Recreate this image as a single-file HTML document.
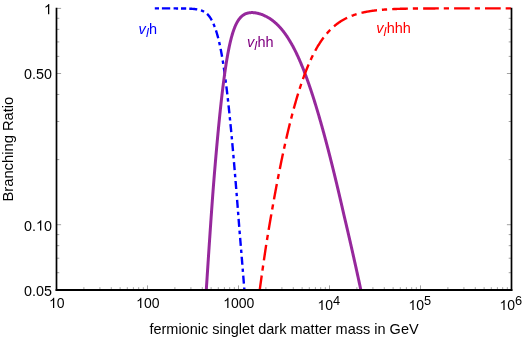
<!DOCTYPE html>
<html><head><meta charset="utf-8"><title>Branching Ratio</title>
<style>
html,body{margin:0;padding:0;background:#fff;}
svg{display:block;will-change:transform;font-family:"Liberation Sans",sans-serif;font-size:14px;fill:#000;}
</style></head><body>
<svg width="525" height="338" viewBox="0 0 525 338">
<rect width="525" height="338" fill="#fff"/>
<defs><clipPath id="cp"><rect x="56.5" y="0" width="456.0" height="289.2"/></clipPath></defs>
<path d="M56.50 290.00 v-4.60 M83.89 290.00 v-2.80 M99.92 290.00 v-2.80 M111.29 290.00 v-2.80 M120.11 290.00 v-2.80 M127.31 290.00 v-2.80 M133.40 290.00 v-2.80 M138.68 290.00 v-2.80 M143.34 290.00 v-2.80 M147.50 290.00 v-4.60 M174.89 290.00 v-2.80 M190.92 290.00 v-2.80 M202.29 290.00 v-2.80 M211.11 290.00 v-2.80 M218.31 290.00 v-2.80 M224.40 290.00 v-2.80 M229.68 290.00 v-2.80 M234.34 290.00 v-2.80 M238.50 290.00 v-4.60 M265.89 290.00 v-2.80 M281.92 290.00 v-2.80 M293.29 290.00 v-2.80 M302.11 290.00 v-2.80 M309.31 290.00 v-2.80 M315.40 290.00 v-2.80 M320.68 290.00 v-2.80 M325.34 290.00 v-2.80 M329.50 290.00 v-4.60 M356.89 290.00 v-2.80 M372.92 290.00 v-2.80 M384.29 290.00 v-2.80 M393.11 290.00 v-2.80 M400.31 290.00 v-2.80 M406.40 290.00 v-2.80 M411.68 290.00 v-2.80 M416.34 290.00 v-2.80 M420.50 290.00 v-4.60 M447.89 290.00 v-2.80 M463.92 290.00 v-2.80 M475.29 290.00 v-2.80 M484.11 290.00 v-2.80 M491.31 290.00 v-2.80 M497.40 290.00 v-2.80 M502.68 290.00 v-2.80 M507.34 290.00 v-2.80 M511.50 290.00 v-4.60 M56.50 8.40 h4.60 M511.50 8.40 h-4.60 M56.50 73.51 h4.60 M511.50 73.51 h-4.60 M56.50 224.70 h4.60 M511.50 224.70 h-4.60 M56.50 289.81 h4.60 M511.50 289.81 h-4.60 M56.50 18.30 h2.80 M511.50 18.30 h-2.80 M56.50 29.36 h2.80 M511.50 29.36 h-2.80 M56.50 41.91 h2.80 M511.50 41.91 h-2.80 M56.50 56.39 h2.80 M511.50 56.39 h-2.80 M56.50 94.47 h2.80 M511.50 94.47 h-2.80 M56.50 121.50 h2.80 M511.50 121.50 h-2.80 M56.50 159.59 h2.80 M511.50 159.59 h-2.80 M56.50 234.60 h2.80 M511.50 234.60 h-2.80 M56.50 245.66 h2.80 M511.50 245.66 h-2.80 M56.50 258.21 h2.80 M511.50 258.21 h-2.80 M56.50 272.69 h2.80 M511.50 272.69 h-2.80" stroke="#444" stroke-width="0.5" fill="none"/>
<g clip-path="url(#cp)" fill="none" stroke-linejoin="round">
<path d="M154.80 8.40 L155.30 8.40 L155.80 8.40 L156.30 8.40 L156.80 8.40 L157.30 8.40 L157.80 8.40 L158.30 8.40 L158.80 8.40 L159.30 8.40 L159.80 8.40 L160.30 8.40 L160.80 8.40 L161.30 8.40 L161.80 8.40 L162.30 8.40 L162.80 8.40 L163.30 8.40 L163.80 8.40 L164.30 8.40 L164.80 8.40 L165.30 8.40 L165.80 8.40 L166.30 8.40 L166.80 8.41 L167.30 8.41 L167.80 8.41 L168.30 8.41 L168.80 8.41 L169.30 8.41 L169.80 8.41 L170.30 8.41 L170.80 8.41 L171.30 8.41 L171.80 8.41 L172.30 8.41 L172.80 8.41 L173.30 8.42 L173.80 8.42 L174.30 8.42 L174.80 8.42 L175.30 8.42 L175.80 8.42 L176.30 8.43 L176.80 8.43 L177.30 8.43 L177.80 8.44 L178.30 8.44 L178.80 8.44 L179.30 8.45 L179.80 8.45 L180.30 8.45 L180.80 8.46 L181.30 8.46 L181.80 8.47 L182.30 8.48 L182.80 8.48 L183.30 8.49 L183.80 8.50 L184.30 8.51 L184.80 8.52 L185.30 8.53 L185.80 8.54 L186.20 8.55" stroke="#0000ff" stroke-width="2.4" stroke-dasharray="4.2 2.9 8.3 3.4 4.5 2.9 8.3 3.4"/>
<path d="M189.25 8.66 L189.75 8.68 L190.25 8.70 L190.75 8.73 L191.25 8.76 L191.75 8.79 L192.25 8.83 L192.75 8.87 L193.25 8.91 L193.75 8.96 L194.25 9.01 L194.75 9.06 L195.25 9.12 L195.75 9.19 L196.25 9.26 L196.75 9.34 L197.25 9.42 L197.75 9.51 L198.25 9.61 L198.75 9.72 L199.25 9.84 L199.75 9.97 L200.25 10.11 L200.75 10.27 L201.25 10.44 L201.75 10.62 L202.25 10.82 L202.75 11.03 L203.25 11.27 L203.70 11.50 L204.15 11.74 L204.60 12.01 L205.05 12.30 L205.50 12.61 L205.95 12.94 L206.35 13.26 L206.75 13.60 L207.15 13.96 L207.55 14.35 L207.90 14.71 L208.25 15.09 L208.60 15.49 L208.95 15.91 L209.30 16.36 L209.60 16.77 L209.90 17.19 L210.20 17.64 L210.50 18.10 L210.80 18.59 L211.10 19.09 L211.35 19.53 L211.60 19.99 L211.85 20.46 L212.10 20.94 L212.35 21.44 L212.60 21.96 L212.85 22.49 L213.10 23.03 L213.35 23.59 L213.60 24.16 L213.80 24.63 L214.00 25.11 L214.20 25.60 L214.40 26.10 L214.60 26.61 L214.80 27.13 L215.00 27.67 L215.20 28.21 L215.40 28.77 L215.60 29.34 L215.80 29.93 L216.00 30.53 L216.20 31.15 L216.40 31.77 L216.55 32.25 L216.70 32.74 L216.85 33.24 L217.00 33.75 L217.15 34.26 L217.30 34.79 L217.45 35.32 L217.60 35.86 L217.75 36.41 L217.90 36.98 L218.05 37.55 L218.20 38.13 L218.35 38.72 L218.50 39.31 L218.65 39.92 L218.80 40.54 L218.95 41.17 L219.10 41.81 L219.25 42.46 L219.40 43.12 L219.55 43.79 L219.70 44.47 L219.85 45.16 L220.00 45.87 L220.15 46.58 L220.30 47.30 L220.45 48.04 L220.55 48.54 L220.65 49.04 L220.75 49.54 L220.85 50.05 L220.95 50.57 L221.05 51.09 L221.15 51.62 L221.25 52.15 L221.35 52.69 L221.45 53.23 L221.55 53.77 L221.65 54.33 L221.75 54.88 L221.85 55.45 L221.95 56.01 L222.05 56.59 L222.15 57.16 L222.25 57.75 L222.35 58.34 L222.45 58.93 L222.55 59.53 L222.65 60.13 L222.75 60.74 L222.85 61.36 L222.95 61.98 L223.05 62.61 L223.15 63.24 L223.25 63.87 L223.35 64.51 L223.45 65.16 L223.55 65.82 L223.65 66.47 L223.75 67.14 L223.85 67.81 L223.95 68.48 L224.05 69.16 L224.15 69.85 L224.25 70.54 L224.35 71.23 L224.45 71.94 L224.55 72.64 L224.65 73.36 L224.75 74.07 L224.85 74.80 L224.95 75.53 L225.05 76.26 L225.15 77.00 L225.25 77.75 L225.35 78.50 L225.45 79.26 L225.55 80.02 L225.65 80.79 L225.75 81.56 L225.85 82.34 L225.95 83.12 L226.05 83.91 L226.15 84.70 L226.25 85.50 L226.35 86.31 L226.45 87.12 L226.55 87.94 L226.65 88.76 L226.75 89.59 L226.85 90.42 L226.95 91.26 L227.05 92.10 L227.15 92.95 L227.25 93.80 L227.35 94.66 L227.45 95.52 L227.55 96.39 L227.65 97.27 L227.75 98.15 L227.85 99.03 L227.95 99.92 L228.05 100.82 L228.15 101.72 L228.25 102.62 L228.35 103.53 L228.45 104.45 L228.55 105.37 L228.65 106.30 L228.75 107.23 L228.85 108.16 L228.95 109.10 L229.05 110.05 L229.15 111.00 L229.25 111.95 L229.35 112.92 L229.45 113.88 L229.55 114.85 L229.65 115.83 L229.75 116.80 L229.85 117.79 L229.95 118.78 L230.05 119.77 L230.10 120.27 L230.15 120.77 L230.20 121.27 L230.25 121.77 L230.30 122.28 L230.35 122.78 L230.40 123.29 L230.45 123.79 L230.50 124.30 L230.55 124.81 L230.60 125.32 L230.65 125.83 L230.70 126.34 L230.75 126.86 L230.80 127.37 L230.85 127.89 L230.90 128.41 L230.95 128.92 L231.00 129.44 L231.05 129.96 L231.10 130.48 L231.15 131.01 L231.20 131.53 L231.25 132.05 L231.30 132.58 L231.35 133.11 L231.40 133.63 L231.45 134.16 L231.50 134.69 L231.55 135.22 L231.60 135.76 L231.65 136.29 L231.70 136.82 L231.75 137.36 L231.80 137.89 L231.85 138.43 L231.90 138.97 L231.95 139.51 L232.00 140.05 L232.05 140.59 L232.10 141.13 L232.15 141.68 L232.20 142.22 L232.25 142.77 L232.30 143.31 L232.35 143.86 L232.40 144.41 L232.45 144.96 L232.50 145.51 L232.55 146.06 L232.60 146.61 L232.65 147.17 L232.70 147.72 L232.75 148.27 L232.80 148.83 L232.85 149.39 L232.90 149.95 L232.95 150.51 L233.00 151.07 L233.05 151.63 L233.10 152.19 L233.15 152.75 L233.20 153.32 L233.25 153.88 L233.30 154.45 L233.35 155.01 L233.40 155.58 L233.45 156.15 L233.50 156.72 L233.55 157.29 L233.60 157.86 L233.65 158.43 L233.70 159.00 L233.75 159.58 L233.80 160.15 L233.85 160.73 L233.90 161.30 L233.95 161.88 L234.00 162.46 L234.05 163.04 L234.10 163.62 L234.15 164.20 L234.20 164.78 L234.25 165.36 L234.30 165.95 L234.35 166.53 L234.40 167.12 L234.45 167.70 L234.50 168.29 L234.55 168.88 L234.60 169.47 L234.65 170.05 L234.70 170.64 L234.75 171.24 L234.80 171.83 L234.85 172.42 L234.90 173.01 L234.95 173.61 L235.00 174.20 L235.05 174.80 L235.10 175.39 L235.15 175.99 L235.20 176.59 L235.25 177.19 L235.30 177.79 L235.35 178.39 L235.40 178.99 L235.45 179.59 L235.50 180.19 L235.55 180.80 L235.60 181.40 L235.65 182.00 L235.70 182.61 L235.75 183.22 L235.80 183.82 L235.85 184.43 L235.90 185.04 L235.95 185.65 L236.00 186.26 L236.05 186.87 L236.10 187.48 L236.15 188.09 L236.20 188.70 L236.25 189.32 L236.30 189.93 L236.35 190.55 L236.40 191.16 L236.45 191.78 L236.50 192.40 L236.55 193.01 L236.60 193.63 L236.65 194.25 L236.70 194.87 L236.75 195.49 L236.80 196.11 L236.85 196.73 L236.90 197.35 L236.95 197.98 L237.00 198.60 L237.05 199.22 L237.10 199.85 L237.15 200.47 L237.20 201.10 L237.25 201.73 L237.30 202.35 L237.35 202.98 L237.40 203.61 L237.45 204.24 L237.50 204.87 L237.55 205.50 L237.60 206.13 L237.65 206.76 L237.70 207.39 L237.75 208.03 L237.80 208.66 L237.85 209.29 L237.90 209.93 L237.95 210.56 L238.00 211.20 L238.05 211.84 L238.10 212.47 L238.15 213.11 L238.20 213.75 L238.25 214.39 L238.30 215.03 L238.35 215.67 L238.40 216.31 L238.45 216.95 L238.50 217.59 L238.55 218.23 L238.60 218.87 L238.65 219.51 L238.70 220.16 L238.75 220.80 L238.80 221.45 L238.85 222.09 L238.90 222.74 L238.95 223.38 L239.00 224.03 L239.05 224.68 L239.10 225.32 L239.15 225.97 L239.20 226.62 L239.25 227.27 L239.30 227.92 L239.35 228.57 L239.40 229.22 L239.45 229.87 L239.50 230.52 L239.56 231.17 L239.61 231.83 L239.67 232.48 L239.72 233.13 L239.78 233.79 L239.83 234.44 L239.89 235.10 L239.94 235.75 L240.00 236.41 L240.05 237.06 L240.11 237.72 L240.17 238.38 L240.22 239.04 L240.28 239.69 L240.33 240.35 L240.39 241.01 L240.44 241.67 L240.50 242.33 L240.55 242.99 L240.61 243.65 L240.66 244.31 L240.72 244.97 L240.77 245.64 L240.83 246.30 L240.88 246.96 L240.94 247.63 L240.99 248.29 L241.05 248.95 L241.10 249.62 L241.16 250.28 L241.21 250.95 L241.27 251.61 L241.32 252.28 L241.38 252.95 L241.43 253.61 L241.49 254.28 L241.54 254.95 L241.60 255.62 L241.65 256.28 L241.71 256.95 L241.76 257.62 L241.82 258.29 L241.88 258.96 L241.93 259.63 L241.99 260.30 L242.04 260.97 L242.10 261.65 L242.15 262.32 L242.21 262.99 L242.26 263.66 L242.32 264.34 L242.37 265.01 L242.43 265.68 L242.48 266.36 L242.54 267.03 L242.59 267.71 L242.65 268.38 L242.70 269.06 L242.76 269.73 L242.81 270.41 L242.87 271.08 L242.92 271.76 L242.98 272.44 L243.04 273.12 L243.09 273.79 L243.15 274.47 L243.20 275.15 L243.26 275.83 L243.31 276.51 L243.37 277.19 L243.42 277.87 L243.48 278.55 L243.53 279.23 L243.59 279.91 L243.64 280.59 L243.70 281.27 L243.75 281.95 L243.81 282.63 L243.86 283.32 L243.92 284.00 L243.98 284.68 L244.03 285.36 L244.09 286.05 L244.14 286.73 L244.20 287.41 L244.25 288.10 L244.30 288.78 L244.35 289.47" stroke="#0000ff" stroke-width="2.4" stroke-dasharray="8.05 3.82 3.4 3.73"/>
<path d="M206.20 291.39 L206.25 290.62 L206.30 289.84 L206.35 289.07 L206.40 288.30 L206.45 287.52 L206.50 286.75 L206.55 285.98 L206.60 285.21 L206.65 284.44 L206.70 283.67 L206.75 282.90 L206.80 282.13 L206.85 281.36 L206.90 280.59 L206.95 279.82 L207.00 279.05 L207.05 278.28 L207.10 277.51 L207.15 276.75 L207.20 275.98 L207.25 275.21 L207.30 274.45 L207.35 273.68 L207.40 272.92 L207.45 272.15 L207.50 271.39 L207.55 270.63 L207.60 269.86 L207.65 269.10 L207.70 268.34 L207.75 267.57 L207.80 266.81 L207.85 266.05 L207.90 265.29 L207.95 264.53 L208.00 263.77 L208.05 263.01 L208.10 262.25 L208.15 261.50 L208.20 260.74 L208.25 259.98 L208.30 259.23 L208.35 258.47 L208.40 257.71 L208.45 256.96 L208.50 256.20 L208.55 255.45 L208.60 254.70 L208.65 253.94 L208.70 253.19 L208.75 252.44 L208.80 251.69 L208.85 250.94 L208.90 250.19 L208.95 249.44 L209.00 248.69 L209.05 247.94 L209.10 247.19 L209.15 246.45 L209.20 245.70 L209.25 244.96 L209.30 244.21 L209.35 243.47 L209.40 242.72 L209.45 241.98 L209.50 241.24 L209.55 240.49 L209.60 239.75 L209.65 239.01 L209.70 238.27 L209.75 237.53 L209.80 236.79 L209.85 236.06 L209.90 235.32 L209.95 234.58 L210.00 233.85 L210.05 233.11 L210.10 232.38 L210.15 231.64 L210.20 230.91 L210.25 230.18 L210.30 229.45 L210.35 228.72 L210.40 227.99 L210.45 227.26 L210.50 226.53 L210.55 225.81 L210.60 225.08 L210.65 224.35 L210.70 223.63 L210.75 222.91 L210.80 222.19 L210.85 221.46 L210.90 220.74 L210.95 220.02 L211.00 219.31 L211.05 218.59 L211.10 217.87 L211.15 217.16 L211.20 216.44 L211.25 215.73 L211.30 215.02 L211.35 214.31 L211.40 213.60 L211.45 212.89 L211.50 212.18 L211.55 211.48 L211.60 210.77 L211.65 210.07 L211.70 209.37 L211.75 208.66 L211.80 207.97 L211.85 207.27 L211.90 206.57 L211.95 205.88 L212.00 205.18 L212.05 204.49 L212.10 203.80 L212.15 203.11 L212.20 202.42 L212.25 201.74 L212.30 201.05 L212.35 200.37 L212.40 199.69 L212.45 199.01 L212.50 198.34 L212.55 197.66 L212.60 196.99 L212.65 196.32 L212.70 195.65 L212.75 194.98 L212.80 194.31 L212.85 193.65 L212.90 192.99 L212.95 192.33 L213.00 191.67 L213.05 191.01 L213.10 190.36 L213.15 189.71 L213.20 189.06 L213.25 188.41 L213.30 187.76 L213.35 187.12 L213.40 186.48 L213.45 185.84 L213.50 185.20 L213.55 184.56 L213.60 183.92 L213.65 183.29 L213.70 182.66 L213.75 182.03 L213.80 181.40 L213.85 180.78 L213.90 180.15 L213.95 179.53 L214.00 178.91 L214.05 178.29 L214.10 177.67 L214.15 177.05 L214.20 176.44 L214.25 175.82 L214.30 175.21 L214.35 174.60 L214.40 173.99 L214.45 173.38 L214.50 172.78 L214.55 172.17 L214.60 171.57 L214.65 170.96 L214.70 170.36 L214.75 169.76 L214.80 169.16 L214.85 168.57 L214.90 167.97 L214.95 167.38 L215.00 166.78 L215.05 166.19 L215.10 165.60 L215.15 165.01 L215.20 164.42 L215.25 163.83 L215.30 163.24 L215.35 162.66 L215.40 162.07 L215.45 161.49 L215.50 160.91 L215.55 160.33 L215.60 159.75 L215.65 159.17 L215.70 158.59 L215.75 158.01 L215.80 157.44 L215.85 156.86 L215.90 156.29 L215.95 155.72 L216.00 155.15 L216.05 154.58 L216.10 154.01 L216.15 153.44 L216.20 152.87 L216.25 152.31 L216.30 151.74 L216.35 151.18 L216.40 150.62 L216.45 150.06 L216.50 149.50 L216.55 148.94 L216.60 148.38 L216.65 147.82 L216.70 147.26 L216.75 146.71 L216.80 146.16 L216.85 145.60 L216.90 145.05 L216.95 144.50 L217.00 143.95 L217.05 143.40 L217.10 142.85 L217.15 142.31 L217.20 141.76 L217.25 141.22 L217.30 140.67 L217.35 140.13 L217.40 139.59 L217.45 139.05 L217.50 138.51 L217.55 137.97 L217.60 137.44 L217.65 136.90 L217.70 136.37 L217.75 135.83 L217.80 135.30 L217.85 134.77 L217.90 134.24 L217.95 133.71 L218.00 133.18 L218.05 132.66 L218.10 132.13 L218.15 131.60 L218.20 131.08 L218.25 130.56 L218.30 130.04 L218.35 129.52 L218.40 129.00 L218.45 128.48 L218.50 127.96 L218.55 127.45 L218.60 126.93 L218.65 126.42 L218.70 125.91 L218.75 125.40 L218.80 124.89 L218.85 124.38 L218.90 123.87 L218.95 123.37 L219.00 122.86 L219.05 122.36 L219.10 121.85 L219.15 121.35 L219.20 120.85 L219.25 120.35 L219.30 119.85 L219.40 118.86 L219.50 117.87 L219.60 116.89 L219.70 115.91 L219.80 114.94 L219.90 113.97 L220.00 113.01 L220.10 112.05 L220.20 111.09 L220.30 110.14 L220.40 109.20 L220.50 108.26 L220.60 107.33 L220.70 106.40 L220.80 105.47 L220.90 104.56 L221.00 103.64 L221.10 102.73 L221.20 101.83 L221.30 100.93 L221.40 100.04 L221.50 99.15 L221.60 98.27 L221.70 97.39 L221.80 96.52 L221.90 95.65 L222.00 94.79 L222.10 93.93 L222.20 93.08 L222.30 92.24 L222.40 91.39 L222.50 90.56 L222.60 89.73 L222.70 88.90 L222.80 88.09 L222.90 87.27 L223.00 86.46 L223.10 85.66 L223.20 84.86 L223.30 84.07 L223.40 83.28 L223.50 82.50 L223.60 81.73 L223.70 80.96 L223.80 80.19 L223.90 79.43 L224.00 78.68 L224.10 77.93 L224.20 77.19 L224.30 76.45 L224.40 75.72 L224.50 74.99 L224.60 74.27 L224.70 73.55 L224.80 72.84 L224.90 72.14 L225.00 71.44 L225.10 70.75 L225.20 70.06 L225.30 69.38 L225.40 68.70 L225.50 68.03 L225.60 67.36 L225.70 66.70 L225.80 66.05 L225.90 65.40 L226.00 64.75 L226.10 64.11 L226.20 63.48 L226.30 62.85 L226.40 62.23 L226.50 61.61 L226.60 61.00 L226.70 60.39 L226.80 59.79 L226.90 59.20 L227.00 58.60 L227.10 58.02 L227.20 57.44 L227.30 56.87 L227.40 56.30 L227.50 55.73 L227.60 55.17 L227.70 54.62 L227.80 54.07 L227.90 53.53 L228.00 52.99 L228.10 52.46 L228.20 51.93 L228.30 51.41 L228.40 50.89 L228.50 50.38 L228.60 49.87 L228.70 49.37 L228.80 48.87 L228.90 48.38 L229.05 47.65 L229.20 46.93 L229.35 46.22 L229.50 45.53 L229.65 44.84 L229.80 44.17 L229.95 43.50 L230.10 42.85 L230.25 42.21 L230.40 41.58 L230.55 40.95 L230.70 40.34 L230.85 39.74 L231.00 39.15 L231.15 38.57 L231.30 37.99 L231.45 37.43 L231.60 36.88 L231.75 36.34 L231.90 35.80 L232.05 35.28 L232.20 34.76 L232.35 34.26 L232.50 33.76 L232.65 33.27 L232.80 32.79 L233.00 32.16 L233.20 31.55 L233.40 30.96 L233.60 30.38 L233.80 29.81 L234.00 29.26 L234.20 28.72 L234.40 28.19 L234.60 27.68 L234.80 27.18 L235.00 26.69 L235.20 26.22 L235.40 25.76 L235.65 25.20 L235.90 24.66 L236.15 24.14 L236.40 23.63 L236.65 23.14 L236.90 22.67 L237.15 22.22 L237.40 21.78 L237.70 21.27 L238.00 20.79 L238.30 20.32 L238.60 19.88 L238.90 19.45 L239.20 19.04 L239.55 18.59 L239.90 18.17 L240.25 17.76 L240.60 17.38 L240.95 17.01 L241.35 16.62 L241.75 16.26 L242.15 15.92 L242.55 15.60 L243.00 15.27 L243.45 14.96 L243.90 14.68 L244.35 14.42 L244.80 14.18 L245.30 13.94 L245.80 13.72 L246.30 13.53 L246.80 13.36 L247.30 13.21 L247.80 13.08 L248.30 12.97 L248.80 12.87 L249.30 12.79 L249.80 12.72 L250.30 12.67 L250.80 12.64 L251.30 12.62 L251.80 12.61 L252.30 12.61 L252.80 12.62 L253.30 12.65 L253.80 12.68 L254.30 12.73 L254.80 12.79 L255.30 12.86 L255.80 12.93 L256.30 13.02 L256.80 13.11 L257.30 13.22 L257.80 13.33 L258.30 13.45 L258.80 13.58 L259.30 13.72 L259.80 13.86 L260.30 14.02 L260.80 14.18 L261.30 14.35 L261.80 14.53 L262.30 14.72 L262.80 14.92 L263.30 15.12 L263.80 15.34 L264.30 15.56 L264.80 15.79 L265.30 16.03 L265.75 16.25 L266.20 16.48 L266.65 16.71 L267.10 16.96 L267.55 17.21 L268.00 17.47 L268.45 17.73 L268.90 18.01 L269.35 18.29 L269.80 18.57 L270.25 18.87 L270.70 19.17 L271.15 19.49 L271.60 19.81 L272.05 20.13 L272.50 20.47 L272.90 20.78 L273.30 21.09 L273.70 21.41 L274.10 21.74 L274.50 22.07 L274.90 22.41 L275.30 22.76 L275.70 23.12 L276.10 23.48 L276.50 23.85 L276.90 24.23 L277.30 24.61 L277.70 25.00 L278.10 25.40 L278.50 25.81 L278.85 26.18 L279.20 26.55 L279.55 26.92 L279.90 27.30 L280.25 27.69 L280.60 28.09 L280.95 28.49 L281.30 28.90 L281.65 29.31 L282.00 29.73 L282.35 30.16 L282.70 30.59 L283.05 31.03 L283.40 31.48 L283.75 31.93 L284.10 32.40 L284.40 32.80 L284.70 33.20 L285.00 33.61 L285.30 34.03 L285.60 34.45 L285.90 34.88 L286.20 35.31 L286.50 35.74 L286.80 36.19 L287.10 36.63 L287.40 37.09 L287.70 37.54 L288.00 38.01 L288.30 38.48 L288.60 38.95 L288.90 39.43 L289.20 39.92 L289.50 40.41 L289.80 40.90 L290.10 41.41 L290.40 41.91 L290.70 42.43 L291.00 42.95 L291.25 43.38 L291.50 43.82 L291.75 44.27 L292.00 44.71 L292.25 45.17 L292.50 45.62 L292.75 46.08 L293.00 46.55 L293.25 47.01 L293.50 47.49 L293.75 47.96 L294.00 48.44 L294.25 48.93 L294.50 49.41 L294.75 49.91 L295.00 50.40 L295.25 50.90 L295.50 51.41 L295.75 51.91 L296.00 52.43 L296.25 52.94 L296.50 53.46 L296.75 53.99 L297.00 54.51 L297.25 55.05 L297.50 55.58 L297.75 56.12 L298.00 56.67 L298.25 57.22 L298.50 57.77 L298.75 58.33 L299.00 58.89 L299.25 59.45 L299.50 60.02 L299.75 60.59 L299.95 61.05 L300.15 61.52 L300.35 61.98 L300.55 62.45 L300.75 62.92 L300.95 63.40 L301.15 63.87 L301.35 64.35 L301.55 64.83 L301.75 65.32 L301.95 65.80 L302.15 66.29 L302.35 66.78 L302.55 67.28 L302.75 67.78 L302.95 68.28 L303.15 68.78 L303.35 69.28 L303.55 69.79 L303.75 70.30 L303.95 70.81 L304.15 71.33 L304.35 71.84 L304.55 72.36 L304.75 72.88 L304.95 73.41 L305.15 73.94 L305.35 74.47 L305.55 75.00 L305.75 75.53 L305.95 76.07 L306.15 76.61 L306.35 77.15 L306.55 77.70 L306.75 78.24 L306.95 78.79 L307.15 79.35 L307.35 79.90 L307.55 80.46 L307.75 81.02 L307.95 81.58 L308.15 82.14 L308.35 82.71 L308.55 83.28 L308.75 83.85 L308.95 84.42 L309.15 85.00 L309.35 85.58 L309.55 86.16 L309.75 86.74 L309.95 87.33 L310.15 87.92 L310.35 88.51 L310.55 89.10 L310.75 89.70 L310.95 90.29 L311.15 90.89 L311.35 91.50 L311.55 92.10 L311.75 92.71 L311.95 93.32 L312.15 93.93 L312.35 94.54 L312.55 95.16 L312.75 95.78 L312.95 96.40 L313.15 97.02 L313.35 97.64 L313.55 98.27 L313.75 98.90 L313.95 99.53 L314.15 100.17 L314.35 100.80 L314.50 101.28 L314.65 101.76 L314.80 102.24 L314.95 102.72 L315.10 103.21 L315.25 103.69 L315.40 104.18 L315.55 104.67 L315.70 105.15 L315.85 105.64 L316.00 106.13 L316.15 106.63 L316.30 107.12 L316.45 107.61 L316.60 108.11 L316.75 108.61 L316.90 109.10 L317.05 109.60 L317.20 110.10 L317.35 110.60 L317.50 111.11 L317.65 111.61 L317.80 112.12 L317.95 112.62 L318.10 113.13 L318.25 113.64 L318.40 114.15 L318.55 114.66 L318.70 115.17 L318.85 115.68 L319.00 116.20 L319.15 116.71 L319.30 117.23 L319.45 117.75 L319.60 118.26 L319.75 118.78 L319.90 119.30 L320.05 119.83 L320.20 120.35 L320.35 120.87 L320.50 121.40 L320.65 121.93 L320.80 122.45 L320.95 122.98 L321.10 123.51 L321.25 124.04 L321.40 124.57 L321.55 125.11 L321.70 125.64 L321.85 126.18 L322.00 126.71 L322.15 127.25 L322.30 127.79 L322.45 128.33 L322.60 128.87 L322.75 129.41 L322.90 129.95 L323.05 130.49 L323.20 131.04 L323.35 131.58 L323.50 132.13 L323.65 132.68 L323.80 133.23 L323.95 133.77 L324.10 134.33 L324.25 134.88 L324.40 135.43 L324.55 135.98 L324.70 136.54 L324.85 137.09 L325.00 137.65 L325.15 138.21 L325.30 138.77 L325.45 139.33 L325.60 139.89 L325.75 140.45 L325.90 141.01 L326.05 141.57 L326.20 142.14 L326.35 142.70 L326.50 143.27 L326.65 143.84 L326.80 144.41 L326.95 144.98 L327.10 145.55 L327.25 146.12 L327.40 146.69 L327.55 147.26 L327.70 147.84 L327.85 148.41 L328.00 148.99 L328.15 149.56 L328.30 150.14 L328.45 150.72 L328.60 151.30 L328.75 151.88 L328.90 152.46 L329.05 153.04 L329.20 153.63 L329.35 154.21 L329.50 154.80 L329.65 155.38 L329.80 155.97 L329.95 156.56 L330.10 157.15 L330.25 157.74 L330.40 158.33 L330.55 158.92 L330.70 159.51 L330.85 160.10 L331.00 160.70 L331.15 161.29 L331.30 161.89 L331.45 162.48 L331.60 163.08 L331.75 163.68 L331.90 164.28 L332.05 164.88 L332.20 165.48 L332.35 166.08 L332.50 166.68 L332.65 167.29 L332.80 167.89 L332.95 168.50 L333.10 169.10 L333.25 169.71 L333.40 170.32 L333.55 170.93 L333.70 171.54 L333.85 172.15 L334.00 172.76 L334.15 173.37 L334.30 173.98 L334.45 174.60 L334.60 175.21 L334.75 175.83 L334.90 176.44 L335.05 177.06 L335.20 177.68 L335.35 178.29 L335.50 178.91 L335.65 179.53 L335.80 180.15 L335.95 180.78 L336.10 181.40 L336.25 182.02 L336.40 182.65 L336.55 183.27 L336.70 183.90 L336.85 184.52 L337.00 185.15 L337.15 185.78 L337.30 186.41 L337.45 187.04 L337.60 187.67 L337.75 188.30 L337.90 188.93 L338.05 189.56 L338.20 190.20 L338.35 190.83 L338.50 191.47 L338.65 192.10 L338.80 192.74 L338.95 193.38 L339.10 194.01 L339.25 194.65 L339.40 195.29 L339.55 195.93 L339.70 196.57 L339.85 197.22 L340.00 197.86 L340.15 198.50 L340.30 199.15 L340.45 199.79 L340.60 200.44 L340.75 201.08 L340.90 201.73 L341.05 202.38 L341.20 203.03 L341.35 203.68 L341.50 204.33 L341.65 204.98 L341.80 205.63 L341.95 206.28 L342.10 206.93 L342.25 207.59 L342.40 208.24 L342.55 208.90 L342.70 209.55 L342.85 210.21 L343.00 210.87 L343.15 211.53 L343.30 212.18 L343.45 212.84 L343.60 213.50 L343.75 214.17 L343.90 214.83 L344.06 215.49 L344.21 216.15 L344.37 216.82 L344.53 217.48 L344.69 218.15 L344.84 218.81 L345.00 219.48 L345.16 220.15 L345.32 220.82 L345.47 221.48 L345.63 222.15 L345.79 222.82 L345.95 223.50 L346.10 224.17 L346.26 224.84 L346.42 225.51 L346.58 226.19 L346.73 226.86 L346.89 227.54 L347.05 228.21 L347.21 228.89 L347.37 229.57 L347.52 230.25 L347.68 230.92 L347.84 231.60 L348.00 232.28 L348.15 232.97 L348.31 233.65 L348.47 234.33 L348.63 235.01 L348.78 235.70 L348.94 236.38 L349.10 237.07 L349.26 237.75 L349.42 238.44 L349.57 239.13 L349.73 239.81 L349.89 240.50 L350.05 241.19 L350.20 241.88 L350.36 242.57 L350.52 243.26 L350.68 243.96 L350.84 244.65 L350.99 245.34 L351.15 246.04 L351.31 246.73 L351.47 247.43 L351.63 248.12 L351.78 248.82 L351.94 249.52 L352.10 250.22 L352.26 250.92 L352.41 251.62 L352.57 252.32 L352.73 253.02 L352.89 253.72 L353.05 254.42 L353.20 255.13 L353.36 255.83 L353.52 256.53 L353.68 257.24 L353.84 257.95 L353.99 258.65 L354.15 259.36 L354.31 260.07 L354.47 260.78 L354.63 261.49 L354.78 262.20 L354.94 262.91 L355.10 263.62 L355.26 264.33 L355.42 265.04 L355.58 265.76 L355.73 266.47 L355.89 267.19 L356.05 267.90 L356.21 268.62 L356.37 269.34 L356.52 270.05 L356.68 270.77 L356.84 271.49 L357.00 272.21 L357.16 272.93 L357.31 273.65 L357.47 274.38 L357.63 275.10 L357.79 275.82 L357.95 276.55 L358.11 277.27 L358.26 278.00 L358.42 278.72 L358.58 279.45 L358.74 280.18 L358.90 280.91 L359.06 281.64 L359.21 282.37 L359.37 283.10 L359.53 283.83 L359.69 284.56 L359.85 285.29 L359.95 285.78 L360.06 286.27 L360.16 286.76 L360.27 287.25 L360.37 287.74 L360.48 288.23 L360.59 288.72 L360.69 289.21 L360.80 289.70 L360.90 290.19 L361.01 290.69 L361.11 291.18 L361.22 291.67 L361.27 291.92" stroke="#96289c" stroke-width="3"/>
<path d="M259.75 289.82 L259.84 289.14 L259.93 288.46 L260.03 287.78 L260.12 287.11 L260.21 286.43 L260.30 285.76 L260.40 285.09 L260.49 284.42 L260.58 283.74 L260.67 283.07 L260.77 282.41 L260.86 281.74 L260.95 281.07 L261.04 280.40 L261.14 279.74 L261.23 279.07 L261.32 278.41 L261.41 277.75 L261.51 277.08 L261.60 276.42 L261.69 275.76 L261.78 275.10 L261.88 274.44 L261.97 273.79 L262.06 273.13 L262.16 272.47 L262.25 271.82 L262.34 271.16 L262.43 270.51 L262.53 269.86 L262.62 269.21 L262.71 268.56 L262.80 267.91 L262.90 267.26 L262.99 266.61 L263.08 265.96 L263.18 265.32 L263.27 264.67 L263.36 264.02 L263.45 263.38 L263.55 262.74 L263.64 262.10 L263.73 261.46 L263.83 260.81 L263.92 260.18 L264.01 259.54 L264.10 258.90 L264.20 258.26 L264.29 257.63 L264.38 256.99 L264.48 256.36 L264.57 255.72 L264.66 255.09 L264.76 254.46 L264.85 253.83 L264.94 253.20 L265.03 252.57 L265.13 251.94 L265.22 251.31 L265.31 250.69 L265.41 250.06 L265.50 249.44 L265.59 248.81 L265.69 248.19 L265.78 247.57 L265.87 246.95 L265.96 246.33 L266.06 245.71 L266.15 245.09 L266.25 244.47 L266.35 243.86 L266.45 243.24 L266.55 242.62 L266.65 242.01 L266.75 241.40 L266.85 240.78 L266.95 240.17 L267.05 239.56 L267.15 238.95 L267.25 238.34 L267.35 237.73 L267.45 237.13 L267.55 236.52 L267.65 235.91 L267.75 235.31 L267.85 234.71 L267.95 234.10 L268.05 233.50 L268.15 232.90 L268.25 232.30 L268.35 231.70 L268.45 231.10 L268.55 230.50 L268.65 229.91 L268.75 229.31 L268.85 228.71 L268.95 228.12 L269.05 227.53 L269.15 226.93 L269.25 226.34 L269.35 225.75 L269.45 225.16 L269.55 224.57 L269.65 223.98 L269.75 223.40 L269.85 222.81 L269.95 222.22 L270.05 221.64 L270.15 221.06 L270.25 220.47 L270.35 219.89 L270.45 219.31 L270.55 218.73 L270.65 218.15 L270.75 217.57 L270.85 216.99 L270.95 216.42 L271.05 215.84 L271.15 215.27 L271.25 214.69 L271.35 214.12 L271.45 213.55 L271.55 212.97 L271.65 212.40 L271.75 211.83 L271.85 211.26 L271.95 210.70 L272.05 210.13 L272.15 209.56 L272.25 209.00 L272.35 208.43 L272.45 207.87 L272.55 207.31 L272.65 206.74 L272.75 206.18 L272.85 205.62 L272.95 205.06 L273.05 204.51 L273.15 203.95 L273.25 203.39 L273.35 202.84 L273.45 202.28 L273.55 201.73 L273.65 201.17 L273.75 200.62 L273.85 200.07 L273.95 199.52 L274.05 198.97 L274.15 198.42 L274.25 197.87 L274.35 197.33 L274.45 196.78 L274.55 196.24 L274.65 195.69 L274.75 195.15 L274.85 194.61 L274.95 194.06 L275.05 193.52 L275.15 192.98 L275.25 192.45 L275.35 191.91 L275.45 191.37 L275.55 190.84 L275.65 190.30 L275.75 189.77 L275.85 189.23 L275.95 188.70 L276.05 188.17 L276.15 187.64 L276.25 187.11 L276.35 186.58 L276.45 186.05 L276.55 185.52 L276.65 185.00 L276.75 184.47 L276.85 183.95 L276.95 183.42 L277.05 182.90 L277.15 182.38 L277.25 181.86 L277.35 181.34 L277.45 180.82 L277.55 180.30 L277.65 179.79 L277.75 179.27 L277.85 178.75 L277.95 178.24 L278.05 177.73 L278.15 177.21 L278.25 176.70 L278.35 176.19 L278.45 175.68 L278.55 175.17 L278.65 174.67 L278.75 174.16 L278.85 173.65 L278.95 173.15 L279.05 172.64 L279.15 172.14 L279.25 171.64 L279.35 171.14 L279.45 170.64 L279.55 170.14 L279.65 169.64 L279.75 169.14 L279.85 168.64 L279.95 168.15 L280.05 167.65 L280.15 167.16 L280.25 166.66 L280.35 166.17 L280.45 165.68 L280.55 165.19 L280.70 164.46 L280.85 163.72 L281.00 162.99 L281.15 162.27 L281.30 161.54 L281.45 160.82 L281.60 160.10 L281.75 159.38 L281.90 158.66 L282.05 157.95 L282.20 157.23 L282.35 156.52 L282.50 155.81 L282.65 155.11 L282.80 154.40 L282.95 153.70 L283.10 153.00 L283.25 152.30 L283.40 151.60 L283.55 150.91 L283.70 150.22 L283.85 149.53 L284.00 148.84 L284.15 148.16 L284.30 147.47 L284.45 146.79 L284.60 146.11 L284.75 145.44 L284.90 144.76 L285.05 144.09 L285.20 143.42 L285.35 142.75 L285.50 142.08 L285.65 141.42 L285.80 140.76 L285.95 140.10 L286.10 139.44 L286.25 138.78 L286.40 138.13 L286.55 137.48 L286.70 136.83 L286.85 136.18 L287.00 135.54 L287.15 134.89 L287.30 134.25 L287.45 133.61 L287.60 132.98 L287.75 132.34 L287.90 131.71 L288.05 131.08 L288.20 130.45 L288.35 129.83 L288.50 129.20 L288.65 128.58 L288.80 127.96 L288.95 127.35 L289.10 126.73 L289.25 126.12 L289.40 125.51 L289.55 124.90 L289.70 124.29 L289.85 123.69 L290.00 123.08 L290.15 122.48 L290.30 121.89 L290.45 121.29 L290.60 120.70 L290.75 120.11 L290.90 119.52 L291.05 118.93 L291.20 118.34 L291.35 117.76 L291.50 117.18 L291.65 116.60 L291.80 116.03 L291.95 115.45 L292.10 114.88 L292.25 114.31 L292.40 113.74 L292.55 113.17 L292.70 112.61 L292.85 112.05 L293.00 111.49 L293.15 110.93 L293.30 110.38 L293.45 109.82 L293.60 109.27 L293.75 108.73 L293.90 108.18 L294.05 107.63 L294.20 107.09 L294.35 106.55 L294.50 106.01 L294.65 105.48 L294.80 104.94 L294.95 104.41 L295.10 103.88 L295.25 103.35 L295.40 102.83 L295.55 102.31 L295.70 101.78 L295.85 101.27 L296.00 100.75 L296.15 100.23 L296.30 99.72 L296.45 99.21 L296.60 98.70 L296.75 98.19 L296.90 97.69 L297.05 97.19 L297.20 96.69 L297.35 96.19 L297.50 95.69 L297.65 95.20 L297.80 94.71 L297.95 94.22 L298.10 93.73 L298.25 93.24 L298.40 92.76 L298.55 92.28 L298.70 91.80 L298.85 91.32 L299.05 90.69 L299.25 90.06 L299.45 89.43 L299.65 88.81 L299.85 88.19 L300.05 87.58 L300.25 86.97 L300.45 86.36 L300.65 85.75 L300.85 85.15 L301.05 84.56 L301.25 83.96 L301.45 83.37 L301.65 82.79 L301.85 82.20 L302.05 81.62 L302.25 81.05 L302.45 80.48 L302.65 79.91 L302.85 79.34 L303.05 78.78 L303.25 78.22 L303.45 77.67 L303.65 77.12 L303.85 76.57 L304.05 76.02 L304.25 75.48 L304.45 74.95 L304.65 74.41 L304.85 73.88 L305.05 73.35 L305.25 72.83 L305.45 72.31 L305.65 71.79 L305.85 71.28 L306.05 70.77 L306.25 70.26 L306.45 69.76 L306.65 69.26 L306.85 68.76 L307.05 68.27 L307.25 67.78 L307.45 67.29 L307.65 66.80 L307.85 66.32 L308.05 65.85 L308.25 65.37 L308.45 64.90 L308.65 64.43 L308.85 63.97 L309.05 63.51 L309.25 63.05 L309.50 62.48 L309.75 61.92 L310.00 61.36 L310.25 60.81 L310.50 60.26 L310.75 59.71 L311.00 59.17 L311.25 58.64 L311.50 58.11 L311.75 57.58 L312.00 57.06 L312.25 56.55 L312.50 56.03 L312.75 55.53 L313.00 55.03 L313.25 54.53 L313.50 54.04 L313.75 53.55 L314.00 53.06 L314.25 52.58 L314.50 52.11 L314.75 51.64 L315.00 51.17 L315.25 50.71 L315.50 50.25 L315.75 49.80 L316.00 49.35 L316.25 48.90 L316.50 48.46 L316.75 48.02 L317.05 47.50 L317.35 46.99 L317.65 46.48 L317.95 45.98 L318.25 45.49 L318.55 45.00 L318.85 44.51 L319.15 44.03 L319.45 43.56 L319.75 43.09 L320.05 42.63 L320.35 42.17 L320.65 41.72 L320.95 41.28 L321.25 40.84 L321.55 40.40 L321.85 39.97 L322.15 39.54 L322.45 39.12 L322.75 38.71 L323.05 38.30 L323.35 37.89 L323.65 37.49 L324.00 37.03 L324.35 36.58 L324.70 36.13 L325.05 35.69 L325.40 35.25 L325.75 34.82 L326.10 34.40 L326.45 33.98 L326.80 33.57 L327.15 33.17 L327.50 32.77 L327.85 32.38 L328.20 31.99 L328.55 31.61 L328.90 31.23 L329.25 30.86 L329.60 30.49 L329.95 30.13 L330.35 29.73 L330.75 29.33 L331.15 28.94 L331.55 28.56 L331.95 28.18 L332.35 27.81 L332.75 27.44 L333.15 27.08 L333.55 26.73 L333.95 26.38 L334.35 26.04 L334.75 25.71 L335.15 25.38 L335.55 25.05 L335.95 24.74 L336.35 24.42 L336.75 24.12 L337.15 23.81 L337.60 23.48 L338.05 23.16 L338.50 22.84 L338.95 22.52 L339.40 22.21 L339.85 21.91 L340.30 21.62 L340.75 21.33 L341.20 21.05 L341.65 20.77 L342.10 20.50 L342.55 20.23 L343.00 19.97 L343.45 19.71 L343.90 19.46 L344.35 19.22 L344.80 18.97 L345.25 18.74 L345.70 18.51 L346.15 18.28 L346.60 18.06 L347.10 17.82 L347.60 17.58 L348.10 17.35 L348.60 17.13 L349.10 16.91 L349.60 16.70 L350.10 16.49 L350.60 16.28 L351.10 16.08 L351.60 15.89 L352.10 15.69 L352.60 15.51 L353.10 15.33 L353.60 15.15 L354.10 14.97 L354.60 14.81 L355.10 14.64 L355.60 14.48 L356.10 14.32 L356.60 14.17 L357.10 14.02 L357.60 13.87 L358.10 13.73 L358.60 13.59 L359.10 13.45 L359.60 13.32 L360.10 13.19 L360.60 13.06 L361.10 12.93 L361.60 12.81 L362.10 12.70 L362.60 12.58 L363.10 12.47 L363.60 12.36 L364.10 12.25 L364.60 12.15 L365.10 12.05 L365.60 11.95 L366.10 11.85 L366.60 11.75 L367.10 11.66 L367.60 11.57 L368.10 11.49 L368.60 11.40 L369.10 11.32 L369.60 11.24 L370.10 11.16 L370.60 11.08 L371.10 11.00 L371.60 10.93 L372.10 10.86 L372.60 10.79 L373.10 10.72 L373.60 10.66 L374.10 10.59 L374.60 10.53 L375.10 10.47 L375.60 10.41 L376.10 10.35 L376.60 10.29 L377.10 10.24 L377.60 10.18 L378.10 10.13 L378.60 10.08 L379.10 10.03 L379.60 9.98 L380.10 9.94 L380.60 9.89 L381.10 9.85 L381.60 9.80 L382.10 9.76 L382.60 9.72 L383.10 9.68 L383.60 9.64 L384.10 9.60 L384.60 9.57 L385.10 9.53 L385.60 9.50 L386.10 9.46 L386.60 9.43 L387.10 9.40 L387.60 9.37 L388.10 9.34 L388.60 9.31 L389.10 9.28 L389.60 9.25 L390.10 9.22 L390.60 9.20 L391.10 9.17 L391.60 9.15 L392.10 9.12 L392.60 9.10 L393.10 9.08 L393.60 9.06 L394.10 9.03 L394.60 9.01 L395.10 8.99 L395.60 8.97 L396.10 8.95 L396.60 8.94 L397.10 8.92 L397.60 8.90 L398.10 8.88 L398.60 8.87 L399.10 8.85 L399.60 8.84 L400.10 8.82 L400.60 8.81 L401.10 8.79 L401.60 8.78 L402.10 8.77 L402.60 8.75 L403.10 8.74 L403.60 8.73 L404.10 8.72 L404.60 8.71 L405.10 8.70 L405.60 8.69 L406.10 8.68 L406.60 8.67 L407.10 8.66 L407.60 8.65 L408.10 8.64 L408.60 8.63 L409.10 8.62 L409.60 8.61 L410.10 8.60 L410.60 8.60 L411.10 8.59 L411.60 8.58 L412.10 8.58 L412.60 8.57 L413.10 8.56 L413.60 8.56 L414.10 8.55 L414.60 8.55 L415.10 8.54 L415.60 8.53 L416.10 8.53 L416.60 8.52 L417.10 8.52 L417.60 8.51 L418.10 8.51 L418.60 8.51 L419.10 8.50 L419.60 8.50 L420.10 8.49 L420.60 8.49 L421.10 8.49 L421.60 8.48 L422.10 8.48 L422.60 8.48 L423.10 8.47 L423.60 8.47 L424.10 8.47 L424.60 8.46 L425.10 8.46 L425.60 8.46 L426.10 8.46 L426.60 8.45 L427.10 8.45 L427.60 8.45 L428.10 8.45 L428.60 8.45 L429.10 8.44 L429.60 8.44 L430.10 8.44 L430.60 8.44 L431.10 8.44 L431.60 8.43 L432.10 8.43 L432.60 8.43 L433.10 8.43 L433.60 8.43 L434.10 8.43 L434.60 8.43 L435.10 8.43 L435.60 8.42 L436.10 8.42 L436.60 8.42 L437.10 8.42 L437.60 8.42 L438.10 8.42 L438.60 8.42 L439.10 8.42 L439.60 8.42 L440.10 8.42 L440.60 8.42 L441.10 8.41 L441.60 8.41 L442.10 8.41 L442.60 8.41 L443.10 8.41 L443.60 8.41 L444.10 8.41 L444.60 8.41 L445.10 8.41 L445.60 8.41 L446.10 8.41 L446.60 8.41 L447.10 8.41 L447.60 8.41 L448.10 8.41 L448.60 8.41 L449.10 8.41 L449.60 8.41 L450.10 8.41 L450.60 8.41 L451.10 8.41 L451.60 8.40 L452.10 8.40 L452.60 8.40 L453.10 8.40 L453.60 8.40 L454.10 8.40 L454.60 8.40 L455.10 8.40 L455.60 8.40 L456.10 8.40 L456.60 8.40 L457.10 8.40 L457.60 8.40 L458.10 8.40 L458.60 8.40 L459.10 8.40 L459.60 8.40 L460.10 8.40 L460.60 8.40 L461.10 8.40 L461.60 8.40 L462.10 8.40 L462.60 8.40 L463.10 8.40 L463.60 8.40 L464.10 8.40 L464.60 8.40 L465.10 8.40 L465.60 8.40 L466.10 8.40 L466.60 8.40 L467.10 8.40 L467.60 8.40 L468.10 8.40 L468.60 8.40 L469.10 8.40 L469.60 8.40 L470.10 8.40 L470.60 8.40 L471.10 8.40 L471.60 8.40 L472.10 8.40 L472.60 8.40 L473.10 8.40 L473.60 8.40 L474.10 8.40 L474.60 8.40 L475.10 8.40 L475.60 8.40 L476.10 8.40 L476.60 8.40 L477.10 8.40 L477.60 8.40 L478.10 8.40 L478.60 8.40 L479.10 8.40 L479.60 8.40 L480.10 8.40 L480.60 8.40 L481.10 8.40 L481.60 8.40 L482.10 8.40 L482.60 8.40 L483.10 8.40 L483.60 8.40 L484.10 8.40 L484.60 8.40 L485.10 8.40 L485.60 8.40 L486.10 8.40 L486.60 8.40 L487.10 8.40 L487.60 8.40 L488.10 8.40 L488.60 8.40 L489.10 8.40 L489.60 8.40 L490.10 8.40 L490.60 8.40 L491.10 8.40 L491.60 8.40 L492.10 8.40 L492.60 8.40 L493.10 8.40 L493.60 8.40 L494.10 8.40 L494.60 8.40 L495.10 8.40 L495.60 8.40 L496.10 8.40 L496.60 8.40 L497.10 8.40 L497.60 8.40 L498.10 8.40 L498.60 8.40 L499.10 8.40 L499.60 8.40 L500.10 8.40 L500.60 8.40 L501.10 8.40 L501.60 8.40 L502.10 8.40 L502.60 8.40 L503.10 8.40 L503.60 8.40 L504.10 8.40 L504.60 8.40 L505.10 8.40 L505.60 8.40 L506.10 8.40 L506.60 8.40 L507.10 8.40 L507.60 8.40 L508.10 8.40 L508.60 8.40 L509.10 8.40 L509.60 8.40 L510.10 8.40 L510.60 8.40 L511.10 8.40 L511.20 8.40" stroke="#ff0000" stroke-width="2.4" stroke-dasharray="15.7 4.95 5.2 5.1" stroke-dashoffset="1.25"/>
</g>
<path d="M56.5 7.7 V291.0 M511.5 7.7 V291.0" stroke="#000" stroke-width="1.7" fill="none"/>
<path d="M55.65 290.0 H512.35" stroke="#000" stroke-width="1.8" fill="none"/>
<path transform="translate(43.92 14.20) scale(0.007007 -0.007007)" d="M763 0H583V1147Q518 1085 412.5 1023T223 930V1104Q374 1175 487 1276T647 1472H763Z"/>
<text x="23.97" y="79.31" font-size="14.35">0.50</text>
<text x="23.97" y="230.50" font-size="14.35">0.</text><path transform="translate(35.94 230.50) scale(0.007007 -0.007007)" d="M763 0H583V1147Q518 1085 412.5 1023T223 930V1104Q374 1175 487 1276T647 1472H763Z"/><text x="43.92" y="230.50" font-size="14.35">0</text>
<text x="23.97" y="295.61" font-size="14.35">0.05</text>
<path transform="translate(49.01 307.90) scale(0.006836 -0.006836)" d="M763 0H583V1147Q518 1085 412.5 1023T223 930V1104Q374 1175 487 1276T647 1472H763Z"/><text x="56.80" y="307.90" font-size="14.00">0</text>
<path transform="translate(136.12 307.90) scale(0.006836 -0.006836)" d="M763 0H583V1147Q518 1085 412.5 1023T223 930V1104Q374 1175 487 1276T647 1472H763Z"/><text x="143.91" y="307.90" font-size="14.00">00</text>
<path transform="translate(223.23 307.90) scale(0.006836 -0.006836)" d="M763 0H583V1147Q518 1085 412.5 1023T223 930V1104Q374 1175 487 1276T647 1472H763Z"/><text x="231.01" y="307.90" font-size="14.00">000</text>
<path transform="translate(317.40 310.10) scale(0.006836 -0.006836)" d="M763 0H583V1147Q518 1085 412.5 1023T223 930V1104Q374 1175 487 1276T647 1472H763Z"/><text x="325.19" y="310.10" font-size="14.00">0</text><text x="332.97" y="304.70" font-size="12.80">4</text>
<path transform="translate(408.40 310.10) scale(0.006836 -0.006836)" d="M763 0H583V1147Q518 1085 412.5 1023T223 930V1104Q374 1175 487 1276T647 1472H763Z"/><text x="416.19" y="310.10" font-size="14.00">0</text><text x="423.97" y="304.70" font-size="12.80">5</text>
<path transform="translate(499.40 310.10) scale(0.006836 -0.006836)" d="M763 0H583V1147Q518 1085 412.5 1023T223 930V1104Q374 1175 487 1276T647 1472H763Z"/><text x="507.19" y="310.10" font-size="14.00">0</text><text x="514.97" y="304.70" font-size="12.80">6</text>
<text transform="translate(284.00 333.50) scale(1.0369 1)" text-anchor="middle" >fermionic singlet dark matter mass in GeV</text>
<text transform="translate(12.8 149.1) rotate(-90) scale(1.0530 1)" text-anchor="middle">Branching Ratio</text>
<g fill="#0000ff"><text transform="translate(138.60 33.60) scale(1.0400 1)" text-anchor="start" font-style="italic">v</text><text transform="translate(145.90 36.80) scale(1.0400 1)" text-anchor="start" font-style="italic" font-size="12.2">l</text><text transform="translate(149.00 33.60) scale(1.0350 1)" text-anchor="start" >h</text></g><g fill="#800080"><text transform="translate(247.00 46.50) scale(1.0400 1)" text-anchor="start" font-style="italic">v</text><text transform="translate(254.30 49.70) scale(1.0400 1)" text-anchor="start" font-style="italic" font-size="12.2">l</text><text transform="translate(257.40 46.50) scale(1.0350 1)" text-anchor="start" >hh</text></g><g fill="#ff0000"><text transform="translate(376.30 33.20) scale(1.0400 1)" text-anchor="start" font-style="italic">v</text><text transform="translate(383.60 36.40) scale(1.0400 1)" text-anchor="start" font-style="italic" font-size="12.2">l</text><text transform="translate(386.70 33.20) scale(1.0350 1)" text-anchor="start" >hhh</text></g>
</svg>
</body></html>
